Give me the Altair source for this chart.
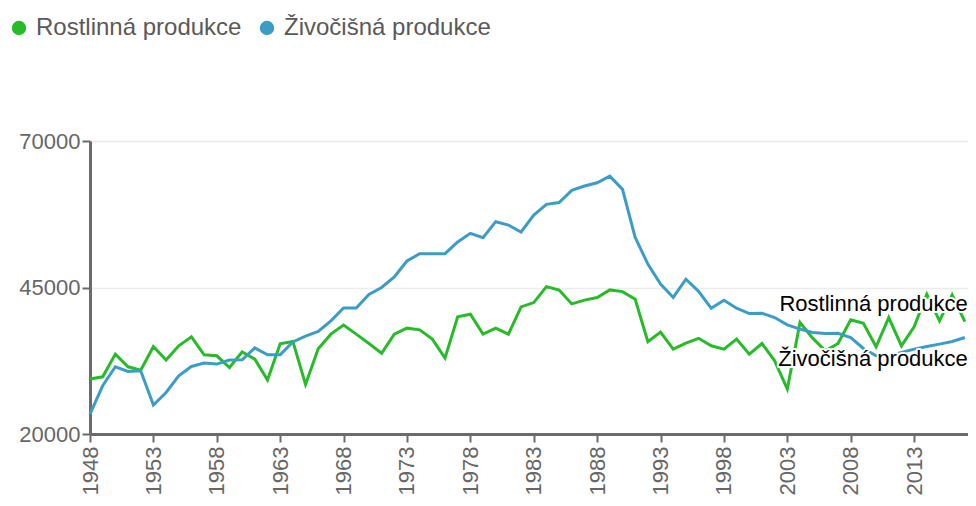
import altair as alt
import pandas as pd

years = list(range(1948, 2018))
rostlinna = [
    29370, 29760, 33630, 31470, 30900, 34930, 32610, 35050, 36580, 33510,
    33340, 31350, 34020, 32780, 29200, 35400, 35800, 28450, 34550, 37040,
    38600, 37040, 35440, 33780, 37040, 38060, 37770, 36190, 32950, 39990,
    40450, 37040, 38060, 37040, 41690, 42430, 45150, 44570, 42200, 42850,
    43280, 44590, 44300, 43000, 35750, 37400, 34480, 35500, 36330, 35050,
    34480, 36190, 33630, 35440, 32490, 27670, 39020, 36360, 34200, 35440,
    39480, 38910, 34880, 39870, 35050, 38280, 43860, 39310, 43740, 39190,
]
zivocisna = [
    23400, 28230, 31470, 30670, 30790, 24940, 27090, 29930, 31520, 32100,
    31930, 32610, 32660, 34700, 33510, 33510, 35700, 36700, 37500, 39310,
    41500, 41500, 43800, 45000, 46800, 49530, 50770, 50770, 50770, 52770,
    54250, 53500, 56230, 55660, 54470, 57370, 59190, 59500, 61580, 62310,
    62870, 64010, 61750, 53550, 49000, 45600, 43300, 46410, 44350, 41450,
    42830, 41470, 40550, 40610, 39870, 38620, 37890, 37310, 37140, 37200,
    36460, 34590, 33340, 33340, 33900, 34480, 34930, 35340, 35780, 36460,
]
series_names = ["Rostlinná produkce", "Živočišná produkce"]
series_colors = ["#27bb2a", "#3c9dc4"]
x_ticks = [1948, 1953, 1958, 1963, 1968, 1973, 1978, 1983, 1988, 1993, 1998, 2003, 2008, 2013]
y_ticks = [20000, 45000, 70000]

FONT = "Liberation Sans"

df = pd.DataFrame(
    {
        "rok": years * 2,
        "hodnota": rostlinna + zivocisna,
        "serie": [series_names[0]] * len(years) + [series_names[1]] * len(years),
    }
)
legend_df = pd.DataFrame({"rok": [years[0]] * 2, "hodnota": [rostlinna[0], zivocisna[0]], "serie": series_names})
label_r = pd.DataFrame({"rok": [years[-1]], "hodnota": [rostlinna[-1]], "serie": [series_names[0]]})
label_z = pd.DataFrame({"rok": [years[-1]], "hodnota": [zivocisna[-1]], "serie": [series_names[1]]})

x_enc = alt.X(
    "rok:Q",
    scale=alt.Scale(domain=[1948, 2017.25], nice=False, zero=False),
    axis=alt.Axis(
        values=x_ticks,
        format="d",
        labelAngle=-90,
        title=None,
        grid=False,
        labelFontSize=22,
        labelFont=FONT,
        labelColor="#666666",
        labelPadding=4,
        domainColor="#6b6b6b",
        domainWidth=3,
        tickColor="#6b6b6b",
        tickWidth=2,
        tickSize=8,
    ),
)
y_enc = alt.Y(
    "hodnota:Q",
    scale=alt.Scale(domain=[20000, 70000], nice=False, zero=False),
    axis=alt.Axis(
        values=y_ticks,
        format="d",
        title=None,
        grid=True,
        gridColor="#ececec",
        gridWidth=1.5,
        labelFontSize=22,
        labelFont=FONT,
        labelColor="#666666",
        labelPadding=2,
        domainColor="#6b6b6b",
        domainWidth=3,
        tickColor="#6b6b6b",
        tickWidth=2,
        tickSize=8,
    ),
)

# line colours (data-driven domain, sorted alphabetically = same order as series_names)
lines = (
    alt.Chart(df)
    .mark_line(strokeWidth=3)
    .encode(
        x=x_enc,
        y=y_enc,
        stroke=alt.Stroke(
            "serie:N",
            scale=alt.Scale(range=series_colors),
            legend=None,
        ),
    )
)

legend_pts = (
    alt.Chart(legend_df)
    .mark_circle(size=0)
    .encode(
        x="rok:Q",
        y="hodnota:Q",
        fill=alt.Fill(
            "serie:N",
            scale=alt.Scale(domain=series_names, range=series_colors),
            legend=alt.Legend(
                title=None,
                orient="none",
                legendX=-83,
                legendY=-125,
                direction="horizontal",
                symbolType="circle",
                symbolSize=210,
                symbolOpacity=1,
                symbolStrokeWidth=0,
                labelFontSize=24,
                labelFont=FONT,
                labelColor="#595959",
                labelOffset=5,
                columnPadding=13,
                padding=0,
                labelLimit=400,
            ),
        ),
    )
)


def label_layers(data, dy):
    base = alt.Chart(data).encode(x="rok:Q", y="hodnota:Q", text="serie:N")
    halo = base.mark_text(
        align="right",
        baseline="middle",
        dx=3,
        dy=dy,
        fontSize=22,
        font=FONT,
        stroke="white",
        strokeWidth=4,
        strokeJoin="round",
        fill="white",
    )
    txt = base.mark_text(
        align="right",
        baseline="middle",
        dx=3,
        dy=dy,
        fontSize=22,
        font=FONT,
        color="black",
    )
    return [halo, txt]


chart = (
    alt.layer(lines, legend_pts, *label_layers(label_r, -18), *label_layers(label_z, 21))
    .properties(
        width=878,
        height=293,
        padding={"left": 82, "top": 133, "right": 0, "bottom": 64},
        autosize=alt.AutoSizeParams(type="none"),
    )
    .configure_view(stroke=None)
)

chart.save("out.html", embed_options={"renderer": "svg", "actions": False})
